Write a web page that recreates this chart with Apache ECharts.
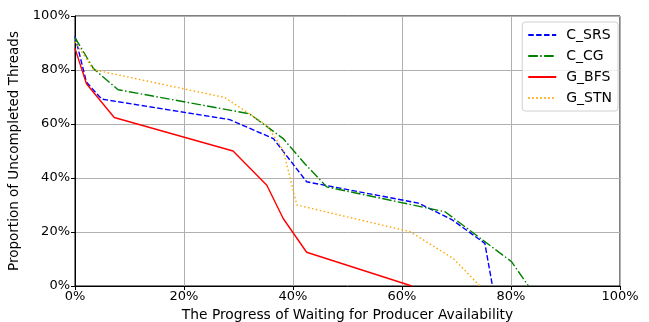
<!DOCTYPE html>
<html><head><meta charset="utf-8">
<script src="https://cdn.jsdelivr.net/npm/echarts@6/dist/echarts.min.js"></script>
<style>html,body{margin:0;padding:0;background:#fff}#c{width:649px;height:322px}</style>
</head><body><div id="c"></div>
<script>
const xTicks = [0, 20, 40, 60, 80, 100];
const yTicks = [0, 20, 40, 60, 80, 100];
const seriesNames = ['C_SRS', 'C_CG', 'G_BFS', 'G_STN'];
const srsX = [0, 2.1, 4.9, 28.4, 36.4, 42.5, 63, 69.2, 75.2, 76.6];
const srsY = [92.5, 75.5, 69.2, 61.6, 54.6, 38.6, 30.7, 24.5, 15.8, 0];
const cgX = [0, 3.4, 7.9, 32.0, 38.2, 42.2, 46.2, 67.9, 80.1, 83.2];
const cgY = [92, 80.5, 72.7, 63.8, 54.6, 45.2, 36.7, 27.5, 9, 0];
const bfsX = [0, 2.1, 7.2, 29.0, 35.2, 38.2, 42.5, 61.8];
const bfsY = [88, 74.9, 62.4, 50.0, 37.3, 25, 12.5, 0];
const stnX = [0, 3.4, 27.5, 35.2, 38.2, 40.7, 61.5, 69.4, 74.3];
const stnY = [90.5, 80.1, 69.8, 59.5, 50.3, 30, 20.1, 10.2, 0];

const zip = (xs, ys) => xs.map((x, i) => [x, ys[i]]);
const F = 'DejaVu Sans';
const styles = [
  {color: '#0000ff', type: [5.5, 2.4]},
  {color: '#008000', type: [9.6, 2.4, 1.5, 2.4]},
  {color: '#ff0000', type: 'solid'},
  {color: '#ffa500', type: [1.5, 2.5]}
];
const datas = [zip(srsX, srsY), zip(cgX, cgY), zip(bfsX, bfsY), zip(stnX, stnY)];

const chart = echarts.init(document.getElementById('c'), null, {renderer: 'canvas'});
chart.setOption({
  animation: false,
  backgroundColor: '#fff',
  grid: {left: 75, right: 29, top: 16, bottom: 36, show: true, borderColor: '#000', borderWidth: 1,
         outerBoundsMode: 'none', containLabel: false},
  legend: {
    orient: 'vertical', right: 31, top: 22,
    itemWidth: 28, itemHeight: 13, itemGap: 7,
    padding: [6, 6, 6, 5],
    borderColor: '#d0d0d0', borderWidth: 1, borderRadius: 3,
    backgroundColor: 'rgba(255,255,255,0.8)',
    itemStyle: {opacity: 0},
    textStyle: {fontFamily: F, fontSize: 14, color: '#000', padding: [0, 0, 0, 5]},
    data: seriesNames
  },
  xAxis: {
    type: 'value', min: 0, max: 100, interval: 20,
    name: 'The Progress of Waiting for Producer Availability',
    nameLocation: 'middle', nameGap: 22,
    nameTextStyle: {fontFamily: F, fontSize: 13.8, color: '#000'},
    axisLine: {show: true, lineStyle: {color: '#000'}},
    axisTick: {show: true, length: 4, lineStyle: {color: '#000'}},
    axisLabel: {fontFamily: F, fontSize: 13, color: '#000', margin: 4, formatter: v => v + '%'},
    splitLine: {show: true, lineStyle: {color: '#b0b0b0', width: 1}}
  },
  yAxis: {
    type: 'value', min: 0, max: 100, interval: 20,
    name: 'Proportion of Uncompleted Threads',
    nameLocation: 'middle', nameGap: 47,
    nameTextStyle: {fontFamily: F, fontSize: 13.5, color: '#000'},
    axisLine: {show: true, lineStyle: {color: '#000'}},
    axisTick: {show: true, length: 4, lineStyle: {color: '#000'}},
    axisLabel: {fontFamily: F, fontSize: 13, color: '#000', margin: 5, formatter: v => v + '%'},
    splitLine: {show: true, lineStyle: {color: '#b0b0b0', width: 1}}
  },
  series: seriesNames.map((n, i) => ({
    name: n, type: 'line', data: datas[i], symbol: 'none',
    lineStyle: {color: styles[i].color, type: styles[i].type, width: 1.4},
    itemStyle: {color: styles[i].color}
  }))
});
</script></body></html>
